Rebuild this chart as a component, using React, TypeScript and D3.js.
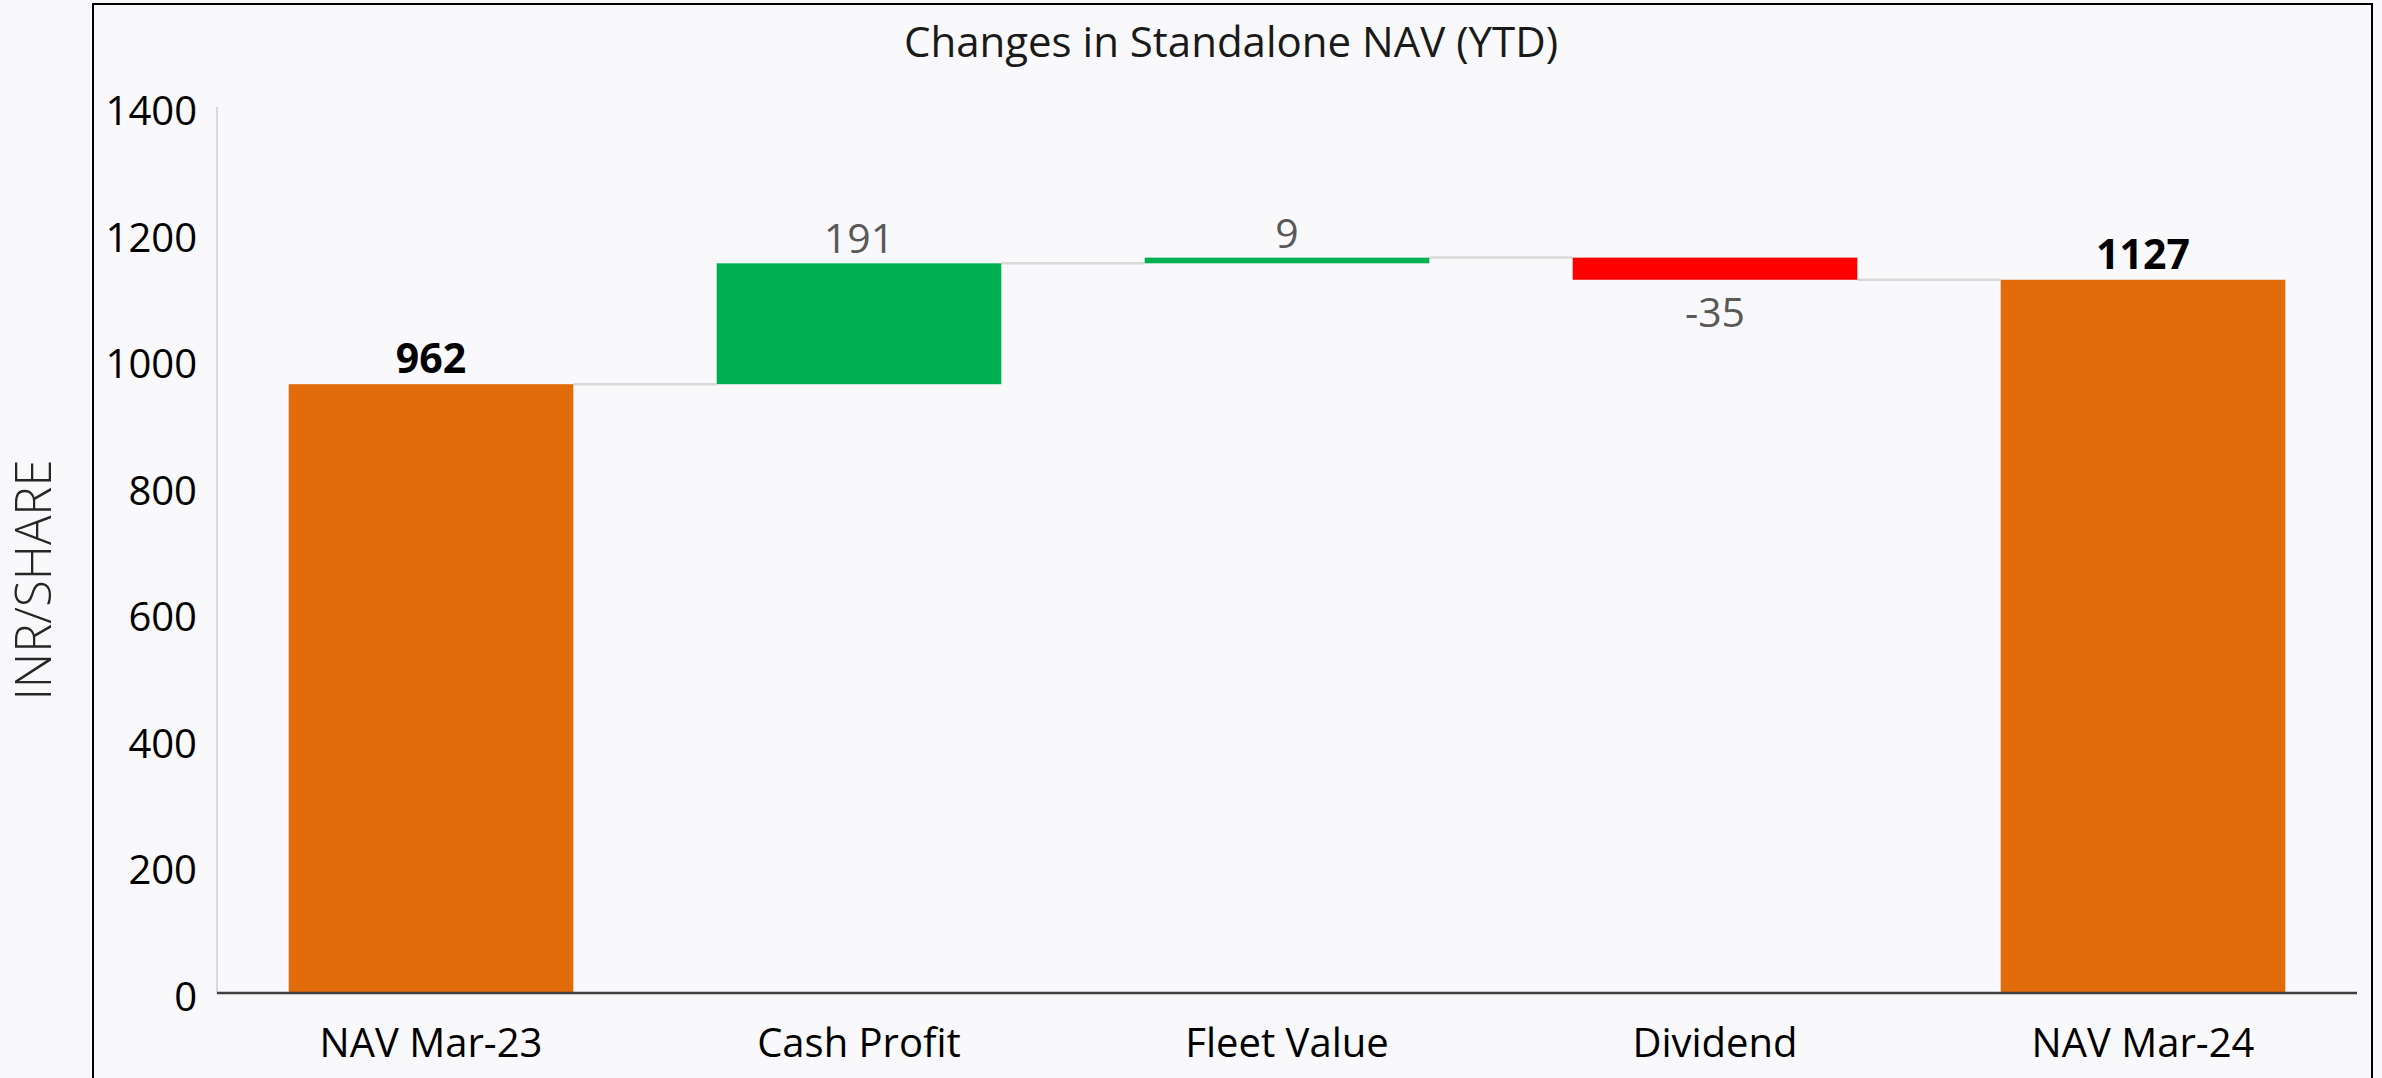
import React from "react";
import * as d3 from "d3";

const categories = ["NAV Mar-23", "Cash Profit", "Fleet Value", "Dividend", "NAV Mar-24"];
const values = [962, 191, 9, -35, 1127];
const kinds = ["total", "delta", "delta", "delta", "total"];
const yTicks = [0, 200, 400, 600, 800, 1000, 1200, 1400];
const titleText = "Changes in Standalone NAV (YTD)";
const yAxisTitle = "INR/SHARE";

const W = 2382;
const H = 1078;
const FONT = "'Open Sans', 'Noto Sans', sans-serif";
const ORANGE = "#E36C0A";
const GREEN = "#00B050";
const RED = "#FF0000";

export default function App() {
  const x = d3
    .scaleBand<string>()
    .domain(categories)
    .range([217, 2357])
    .paddingInner(0.335)
    .paddingOuter(0.1675);
  const y = d3.scaleLinear().domain([0, 1400]).range([993, 107]);

  let running = 0;
  const bars = categories.map((c, i) => {
    const v = values[i];
    let start: number, end: number;
    if (kinds[i] === "total") {
      start = 0;
      end = v;
      running = v;
    } else {
      start = running;
      end = running + v;
      running = end;
    }
    const color = kinds[i] === "total" ? ORANGE : v >= 0 ? GREEN : RED;
    return { c, v, start, end, color, kind: kinds[i] };
  });

  const bw = x.bandwidth();

  return (
    <svg
      width={W}
      height={H}
      style={{ position: "absolute", left: 0, top: 0, display: "block" }}
    >
      <rect x={0} y={0} width={W} height={H} fill="#F9F9FB" />
      <rect x={93} y={4} width={2279} height={H + 20} fill="none" stroke="#000" strokeWidth={2} />
      <text
        x={1231}
        y={57}
        textAnchor="middle"
        fontFamily={FONT}
        fontSize={42}
        fill="#1a1a1a"
      >
        {titleText}
      </text>
      <text
        transform={`translate(51,580) rotate(-90)`}
        textAnchor="middle"
        fontFamily={FONT}
        fontSize={49}
        fontWeight={300}
        fill="#262626"
      >
        {yAxisTitle}
      </text>
      {/* y axis line */}
      <line x1={217} x2={217} y1={y(1400)} y2={y(0)} stroke="#D9D9D9" strokeWidth={2} />
      {yTicks.map((t) => (
        <text
          key={t}
          x={197}
          y={y(t)}
          dy="0.45em"
          textAnchor="end"
          fontFamily={FONT}
          fontSize={40}
          fill="#000"
        >
          {t}
        </text>
      ))}
      {/* connectors */}
      {bars.slice(0, -1).map((b, i) => {
        const level = b.end;
        const x1 = (x(b.c) as number) + bw;
        const x2 = x(bars[i + 1].c) as number;
        return (
          <line
            key={"c" + i}
            x1={x1}
            x2={x2}
            y1={y(level)}
            y2={y(level)}
            stroke="#D9D9D9"
            strokeWidth={2.5}
          />
        );
      })}
      {bars.map((b) => {
        const top = y(Math.max(b.start, b.end));
        const bottom = y(Math.min(b.start, b.end));
        return (
          <rect
            key={b.c}
            x={x(b.c)}
            y={top}
            width={bw}
            height={bottom - top}
            fill={b.color}
          />
        );
      })}
      {/* baseline */}
      <line x1={217} x2={2357} y1={y(0)} y2={y(0)} stroke="#404040" strokeWidth={2.5} />
      {bars.map((b) => {
        const cx = (x(b.c) as number) + bw / 2;
        const top = y(Math.max(b.start, b.end));
        const bottom = y(Math.min(b.start, b.end));
        if (b.kind === "total") {
          return (
            <text
              key={"l" + b.c}
              x={cx}
              y={top - 11}
              textAnchor="middle"
              fontFamily={FONT}
              fontSize={41}
              fontWeight={700}
              fill="#000"
            >
              {b.v}
            </text>
          );
        }
        return (
          <text
            key={"l" + b.c}
            x={cx}
            y={b.v >= 0 ? top - 10 : bottom + 47}
            textAnchor="middle"
            fontFamily={FONT}
            fontSize={41}
            fill="#595959"
          >
            {b.v}
          </text>
        );
      })}
      {categories.map((c) => (
        <text
          key={"x" + c}
          x={(x(c) as number) + bw / 2}
          y={1057}
          textAnchor="middle"
          fontFamily={FONT}
          fontSize={40}
          fill="#000"
        >
          {c}
        </text>
      ))}
    </svg>
  );
}
